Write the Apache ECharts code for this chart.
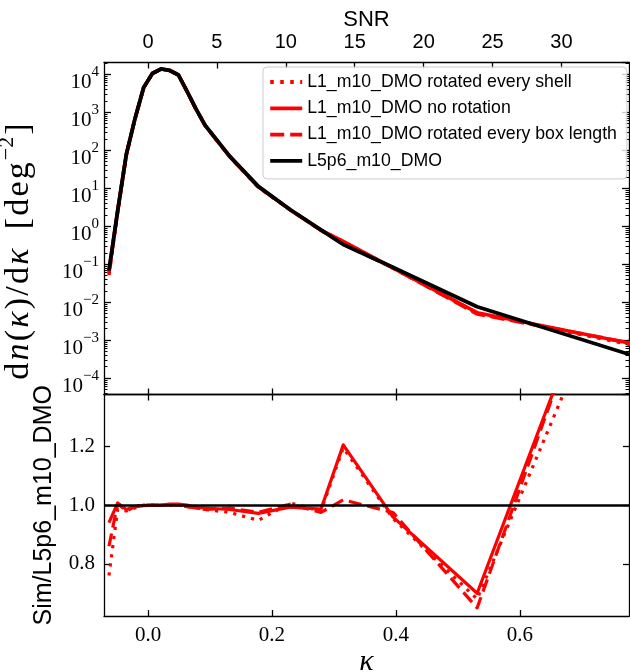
<!DOCTYPE html>
<html><head><meta charset="utf-8">
<script src="https://cdn.jsdelivr.net/npm/echarts@6/dist/echarts.min.js"></script>
<style>html,body{margin:0;padding:0;background:#fff}#c{width:630px;height:672px}</style>
</head><body><div id="c"></div>
<script>
// ---- data ----
const kappa = [-0.063, -0.049, -0.035, -0.021, -0.007, 0.007, 0.021, 0.035, 0.049, 0.063, 0.077, 0.092, 0.132, 0.178, 0.229, 0.279, 0.315, 0.395, 0.531, 0.80];
const dndkL5p6   = [0.068, 2.5, 78, 680, 4470, 10500, 13800, 12600, 9600, 3550, 1260, 457, 69, 11.2, 2.75, 0.80, 0.33, 0.083, 0.0076, 0.00032];
const dndkShell  = [0.052, 2.46, 76.4, 673, 4470, 10500, 13800, 12600, 9600, 3530, 1250, 450, 67.3, 10.6, 2.77, 0.78, 0.394, 0.079, 0.0052, 0.00065];
const dndkNoRot  = [0.064, 2.52, 76.8, 677, 4460, 10500, 13800, 12640, 9630, 3550, 1250, 452, 68, 10.9, 2.73, 0.79, 0.40, 0.080, 0.0053, 0.00070];
const dndkBox    = [0.058, 2.51, 76.4, 677, 4470, 10500, 13800, 12620, 9600, 3530, 1250, 450, 68.3, 10.9, 2.76, 0.78, 0.336, 0.081, 0.0049, 0.00072];
const ratioShell = [0.76, 0.985, 0.98, 0.99, 1.0, 1.0, 1.0, 1.0, 1.0, 0.995, 0.99, 0.985, 0.975, 0.948, 1.007, 0.98, 1.195, 0.955, 0.68, 2.03];
const ratioNoRot = [0.94, 1.007, 0.985, 0.995, 0.998, 1.0, 1.0, 1.003, 1.003, 1.0, 0.992, 0.99, 0.985, 0.972, 0.993, 0.986, 1.205, 0.96, 0.70, 2.2];
const ratioBox   = [0.86, 1.005, 0.98, 0.995, 1.0, 1.0, 1.0, 1.002, 1.0, 0.995, 0.99, 0.985, 0.99, 0.975, 1.003, 0.975, 1.018, 0.975, 0.65, 2.24];
const unityRatio = 1.0;
const kappaTicks = [0, 0.2, 0.4, 0.6];
const snrTicks = [0, 5, 10, 15, 20, 25, 30];
const ratioTicks = [0.8, 1.0, 1.2];
const seriesNames = ['L1_m10_DMO rotated every shell', 'L1_m10_DMO no rotation', 'L1_m10_DMO rotated every box length', 'L5p6_m10_DMO'];

// ---- axis ranges ----
const KMIN = -0.071, KMAX = 0.776;
const SNRMIN = -3.193, SNRMAX = 34.9;
const LOGMIN = -4.43, LOGMAX = 4.31;
const RMIN = 0.6224, RMAX = 1.3765;

const SERIF = "'Liberation Serif', 'DejaVu Serif', serif";
const SANS = "'Liberation Sans', 'DejaVu Sans', sans-serif";
const AX = {color: '#000', width: 1.3};

const minorLog = [];
for (let e = -5; e <= 4; e++) for (let m = 2; m <= 9; m++) {
  const v = Math.log10(m) + e;
  if (v > LOGMIN && v < LOGMAX) minorLog.push(v);
}

const pairs = arr => kappa.map((k, i) => [k, arr[i]]);

function frameX(grid, pos, min, max, ticks, extra) {
  return Object.assign({
    gridIndex: grid, type: 'value', position: pos, min: min, max: max,
    axisLine: {show: true, onZero: false, lineStyle: AX},
    axisTick: {show: true, inside: true, length: 6, customValues: ticks, lineStyle: AX},
    axisLabel: {show: false, customValues: ticks},
    splitLine: {show: false}
  }, extra || {});
}
function frameY(grid, pos, type, min, max, extra) {
  return Object.assign({
    gridIndex: grid, type: type, position: pos, min: min, max: max,
    axisLine: {show: true, onZero: false, lineStyle: AX},
    axisTick: {show: true, inside: true, length: 6, lineStyle: AX},
    axisLabel: {show: false},
    splitLine: {show: false}, minorTick: {show: false}, minorSplitLine: {show: false}
  }, extra || {});
}

const logLabelRich = {
  b: {fontFamily: SERIF, fontSize: 21, color: '#000', lineHeight: 28, verticalAlign: 'bottom'},
  s: {fontFamily: SERIF, fontSize: 15, color: '#000', lineHeight: 12, verticalAlign: 'top'}
};

// y-label of the top panel as rich tokens
const ylabTokens = [['r','d'],['i','n'],['r','('],['i','κ'],['r',')'],['r','/'],['r','d'],['i','κ'],['r','\u2002['],['r','d'],['r','e'],['r','g'],['s','\u22122'],['r',']']];
const ylabText = ylabTokens.map(t => '{' + t[0] + '|' + t[1] + '}').join('');
const ylabStyle = (extra) => Object.assign({fontFamily: SERIF, fontSize: 34, color: '#000', lineHeight: 40, verticalAlign: 'bottom', padding: [0, 1.1, 0, 1.1]}, extra);

const option = {
  animation: false,
  backgroundColor: '#fff',
  grid: [
    {left: 104, right: 1, top: 62.5, height: 332, containLabel: false, outerBoundsMode: 'none'},
    {left: 104, right: 1, top: 394.5, height: 221.5, containLabel: false, outerBoundsMode: 'none'}
  ],
  legend: {
    data: seriesNames, orient: 'vertical', left: 263, top: 67,
    itemWidth: 32, itemHeight: 16, itemGap: 8.3,
    padding: [6, 10, 9, 5.3], selectedMode: false,
    backgroundColor: 'rgba(255,255,255,0.8)', borderColor: '#cccccc', borderWidth: 1, borderRadius: 4,
    itemStyle: {opacity: 0, borderWidth: 0},
    lineStyle: {width: 3.8},
    textStyle: {fontFamily: SANS, fontSize: 17.7, color: '#000', lineHeight: 16}
  },
  xAxis: [
    frameX(0, 'bottom', KMIN, KMAX, kappaTicks),
    frameX(0, 'top', SNRMIN, SNRMAX, snrTicks, {
      axisLabel: {show: true, customValues: snrTicks, fontFamily: SANS, fontSize: 20, color: '#000', margin: 10},
      name: 'SNR', nameLocation: 'middle', nameGap: 32,
      nameTextStyle: {fontFamily: SANS, fontSize: 22, color: '#000'}
    }),
    frameX(1, 'bottom', KMIN, KMAX, kappaTicks, {
      axisLabel: {show: true, customValues: kappaTicks, fontFamily: SERIF, fontSize: 21, color: '#000', margin: 9,
        formatter: v => v.toFixed(1)},
      name: 'κ', nameLocation: 'middle', nameGap: 23,
      nameTextStyle: {fontFamily: SERIF, fontStyle: 'italic', fontSize: 30, color: '#000'}
    }),
    frameX(1, 'top', KMIN, KMAX, kappaTicks)
  ],
  yAxis: [
    frameY(0, 'left', 'log', Math.pow(10, LOGMIN), Math.pow(10, LOGMAX), {
      logBase: 10,
      axisTick: {show: true, inside: true, length: 7, lineStyle: AX},
      axisLabel: {show: true, margin: 5, showMinLabel: false, showMaxLabel: false, padding: [9, 0, 0, 0],
        formatter: v => { const e = Math.round(Math.log10(v)); return '{b|10}{s|' + (e < 0 ? '\u2212' + (-e) : e) + '}'; },
        rich: logLabelRich},
      name: ylabText,
      nameLocation: 'middle', nameRotate: 90, nameGap: 68,
      nameTextStyle: {padding: [0, 46, 0, 0], rich: {
        r: ylabStyle({}),
        i: ylabStyle({fontStyle: 'italic'}),
        s: ylabStyle({fontSize: 22, lineHeight: 16, verticalAlign: 'top', padding: [0, 1, 0, 1]})
      }}
    }),
    frameY(0, 'right', 'log', Math.pow(10, LOGMIN), Math.pow(10, LOGMAX), {
      logBase: 10, axisTick: {show: true, inside: true, length: 7, lineStyle: AX}
    }),
    frameY(0, 'left', 'value', LOGMIN, LOGMAX, {
      axisLine: {show: false, onZero: false},
      axisTick: {show: true, inside: true, length: 3.5, customValues: minorLog, lineStyle: {color: '#000', width: 1}},
      axisLabel: {show: false, customValues: minorLog}
    }),
    frameY(0, 'right', 'value', LOGMIN, LOGMAX, {
      axisLine: {show: false, onZero: false},
      axisTick: {show: true, inside: true, length: 3.5, customValues: minorLog, lineStyle: {color: '#000', width: 1}},
      axisLabel: {show: false, customValues: minorLog}
    }),
    frameY(1, 'left', 'value', RMIN, RMAX, {
      axisTick: {show: true, inside: true, length: 6, customValues: ratioTicks, lineStyle: AX},
      axisLabel: {show: true, customValues: ratioTicks, fontFamily: SERIF, fontSize: 21, color: '#000', margin: 9,
        formatter: v => v.toFixed(1)},
      name: 'Sim/L5p6_m10_DMO', nameLocation: 'middle', nameRotate: 90, nameGap: 47,
      nameTextStyle: {fontFamily: SANS, fontSize: 25, color: '#000'}
    }),
    frameY(1, 'right', 'value', RMIN, RMAX, {
      axisTick: {show: true, inside: true, length: 6, customValues: ratioTicks, lineStyle: AX},
      axisLabel: {show: false, customValues: ratioTicks}
    })
  ],
  series: [
    {name: seriesNames[0], type: 'line', xAxisIndex: 0, yAxisIndex: 0, data: pairs(dndkShell), symbol: 'none',
      lineStyle: {color: '#ff0000', width: 3.6, type: [3.6, 6.4], cap: 'butt', join: 'round'}, itemStyle: {color: '#ff0000'}},
    {name: seriesNames[1], type: 'line', xAxisIndex: 0, yAxisIndex: 0, data: pairs(dndkNoRot), symbol: 'none',
      lineStyle: {color: '#ff0000', width: 3.6, type: 'solid', join: 'round'}, itemStyle: {color: '#ff0000'}},
    {name: seriesNames[2], type: 'line', xAxisIndex: 0, yAxisIndex: 0, data: pairs(dndkBox), symbol: 'none',
      lineStyle: {color: '#ff0000', width: 3.6, type: [14, 6], cap: 'butt', join: 'round'}, itemStyle: {color: '#ff0000'}},
    {name: seriesNames[3], type: 'line', xAxisIndex: 0, yAxisIndex: 0, data: pairs(dndkL5p6), symbol: 'none',
      lineStyle: {color: '#000000', width: 3.8, type: 'solid', join: 'round'}, itemStyle: {color: '#000000'}},
    {name: seriesNames[0], type: 'line', xAxisIndex: 2, yAxisIndex: 4, data: pairs(ratioShell), symbol: 'none',
      lineStyle: {color: '#ff0000', width: 3.2, type: [3.2, 6], cap: 'butt', join: 'round'}},
    {name: seriesNames[1], type: 'line', xAxisIndex: 2, yAxisIndex: 4, data: pairs(ratioNoRot), symbol: 'none',
      lineStyle: {color: '#ff0000', width: 3.2, type: 'solid', join: 'round'}},
    {name: seriesNames[2], type: 'line', xAxisIndex: 2, yAxisIndex: 4, data: pairs(ratioBox), symbol: 'none',
      lineStyle: {color: '#ff0000', width: 3.2, type: [13, 6], cap: 'butt', join: 'round'}},
    {name: 'unity', type: 'line', xAxisIndex: 2, yAxisIndex: 4, data: [], z: 5,
      markLine: {silent: true, symbol: ['none', 'none'], label: {show: false}, animation: false,
        lineStyle: {color: '#000', width: 2.6, type: 'solid'}, data: [{yAxis: unityRatio}]}}
  ]
};
const chart = echarts.init(document.getElementById('c'), null, {renderer: 'canvas'});
chart.setOption(option);
</script></body></html>
